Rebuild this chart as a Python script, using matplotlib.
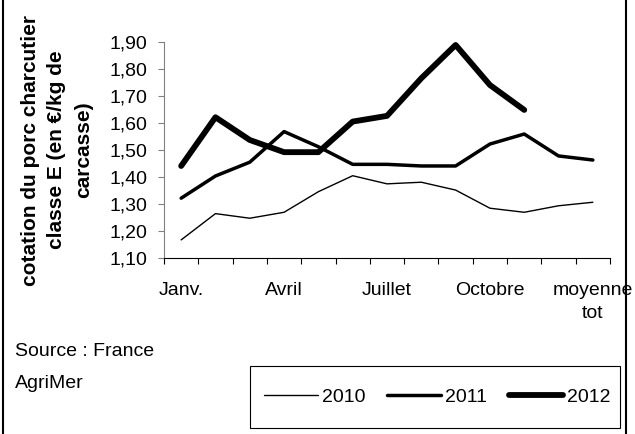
import matplotlib
matplotlib.use('agg')
import matplotlib.pyplot as plt
from matplotlib.lines import Line2D
from matplotlib.patches import Rectangle

plt.rcParams['font.family'] = ['Liberation Sans', 'DejaVu Sans']

mois = ['Janv.', 'Fév.', 'Mars', 'Avril', 'Mai', 'Juin', 'Juillet',
        'Août', 'Sept.', 'Octobre', 'Nov.', 'Déc.', 'moyenne\ntot']
labels_vus = [0, 3, 6, 9, 12]

p2010 = [1.168, 1.265, 1.248, 1.270, 1.346, 1.405, 1.375, 1.381, 1.352, 1.285, 1.270, 1.294, 1.307]
p2011 = [1.322, 1.404, 1.455, 1.568, 1.512, 1.447, 1.447, 1.441, 1.441, 1.522, 1.559, 1.478, 1.463]
p2012 = [1.441, 1.621, 1.537, 1.492, 1.492, 1.605, 1.626, 1.765, 1.888, 1.740, 1.648]

W, H = 635, 434
fig = plt.figure(figsize=(W / 100, H / 100), dpi=100)
ax = fig.add_axes([164 / W, 1 - 258.3 / H, (610 - 164) / W, (258.3 - 41.7) / H])

x = list(range(len(mois)))
l1, = ax.plot(x, p2010, color='black', lw=1.0, solid_capstyle='round', solid_joinstyle='round')
l2, = ax.plot(x, p2011, color='black', lw=2.5, solid_capstyle='round', solid_joinstyle='round')
l3, = ax.plot(x[:len(p2012)], p2012, color='black', lw=4.2, solid_capstyle='round', solid_joinstyle='round')

ax.set_xlim(-0.5, len(mois) - 0.5)
ax.set_ylim(1.10, 1.90)
ax.set_yticks([1.10 + 0.1 * i for i in range(9)])
ax.set_yticklabels([('%.2f' % (1.10 + 0.1 * i)).replace('.', ',') for i in range(9)])

ax.set_xticks([i - 0.5 for i in range(len(mois) + 1)])
ax.set_xticklabels([])
ax.set_xticks(labels_vus, minor=True)
ax.set_xticklabels([mois[i] for i in labels_vus], minor=True)
ax.tick_params(axis='x', which='minor', length=0, pad=17, labelsize=14)
ax.tick_params(axis='x', which='major', length=4, direction='out', color='black')
ax.tick_params(axis='y', length=4, direction='out', color='#808080', pad=8, labelsize=14)
for t in ax.get_xticklabels(minor=True):
    t.set_linespacing(1.5)

for s in ['top', 'right']:
    ax.spines[s].set_visible(False)
ax.spines['left'].set_color('#808080')
ax.spines['bottom'].set_color('black')

fig.text(57 / W, 1 - 150 / H, 'cotation du porc charcutier\nclasse E (en €/kg de\ncarcasse)',
         rotation=90, ha='center', va='center', multialignment='center',
         fontsize=15, fontweight='bold', linespacing=1.5)

fig.text(15 / W, 1 - 351 / H, 'Source : France', fontsize=14, va='center')
fig.text(15 / W, 1 - 383 / H, 'AgriMer', fontsize=14, va='center')

fig.patches.append(Rectangle((250 / W, 1 - 428 / H), (620 - 250) / W, (428 - 366) / H,
                             transform=fig.transFigure, fill=False, edgecolor='black', lw=0.8))
fig.legend([l1, l2, l3], ['2010', '2011', '2012'], loc='center', bbox_to_anchor=(437 / W, 1 - 397 / H),
           ncol=3, frameon=False, fontsize=14, handlelength=2.8, handletextpad=0.2,
           columnspacing=1.1, borderpad=0)

fig.lines.append(Line2D([3 / W, 3 / W], [0, 1], transform=fig.transFigure, color='black', lw=1.5))
fig.lines.append(Line2D([626 / W, 626 / W], [0, 1], transform=fig.transFigure, color='black', lw=1.5))

fig.savefig('out.png', dpi=100)
